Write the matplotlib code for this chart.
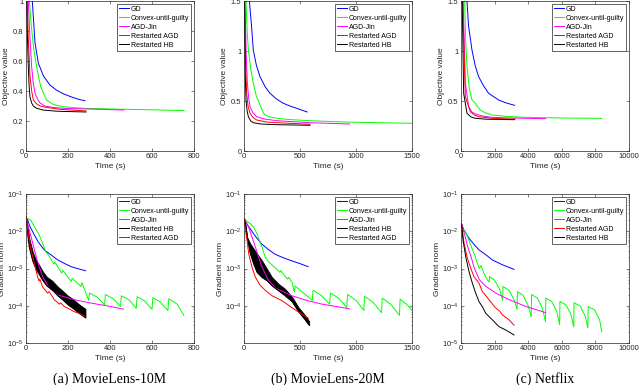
import matplotlib
matplotlib.use('Agg')
import matplotlib.pyplot as plt
from matplotlib.ticker import LogLocator, NullFormatter

plt.rcParams['font.family'] = ['Liberation Sans', 'DejaVu Sans']
plt.rcParams['mathtext.fontset'] = 'custom'
plt.rcParams['mathtext.rm'] = 'Liberation Sans'

C_GD = '#0000ff'
C_CG = '#00ff00'
C_JIN = '#ff00ff'
C_AGD = '#ff0000'
C_HB = '#000000'

# ---------------- objective value (top row) ----------------
# MovieLens-10M
obj_a_gd_t = [25, 30, 43, 59, 83, 114, 146, 180, 217, 250, 281]
obj_a_gd_v = [1.2, 1.0, 0.72, 0.585, 0.50, 0.44, 0.405, 0.38, 0.36, 0.345, 0.335]
obj_a_cg_t = [12, 16, 25, 35, 47, 59, 70, 83, 98, 130, 180, 273, 400, 550, 752]
obj_a_cg_v = [1.2, 1.0, 0.84, 0.70, 0.59, 0.50, 0.43, 0.385, 0.34, 0.31, 0.295, 0.285, 0.28, 0.276, 0.27]
obj_a_jin_t = [8, 11, 19, 27, 35, 43, 55, 67, 90, 130, 200, 352, 467]
obj_a_jin_v = [1.2, 1.0, 0.75, 0.56, 0.45, 0.385, 0.345, 0.32, 0.30, 0.29, 0.283, 0.278, 0.273]
obj_a_agd_t = [4, 6, 11, 19, 27, 35, 50, 67, 100, 162, 286]
obj_a_agd_v = [1.2, 1.0, 0.75, 0.50, 0.40, 0.34, 0.315, 0.30, 0.29, 0.278, 0.267]
obj_a_hb_t = [2, 3, 7, 11, 15, 19, 27, 35, 50, 82, 150, 286]
obj_a_hb_v = [1.2, 1.0, 0.75, 0.56, 0.43, 0.36, 0.32, 0.30, 0.285, 0.273, 0.265, 0.26]

# MovieLens-20M
obj_b_gd_t = [40, 48, 68, 83, 110, 143, 190, 232, 290, 351, 410, 470, 565]
obj_b_gd_v = [1.8, 1.5, 1.24, 1.01, 0.86, 0.743, 0.64, 0.577, 0.52, 0.477, 0.45, 0.427, 0.39]
obj_b_cg_t = [14, 18, 28, 39, 60, 83, 110, 143, 170, 187, 230, 292, 400, 589, 900, 1200, 1500]
obj_b_cg_v = [1.8, 1.5, 1.2, 1.01, 0.82, 0.677, 0.55, 0.46, 0.39, 0.36, 0.34, 0.327, 0.315, 0.303, 0.29, 0.283, 0.277]
obj_b_jin_t = [8, 9, 20, 30, 42, 54, 80, 113, 180, 292, 589, 946]
obj_b_jin_v = [1.8, 1.5, 0.95, 0.68, 0.53, 0.443, 0.38, 0.343, 0.32, 0.303, 0.283, 0.27]
obj_b_agd_t = [5, 6, 15, 24, 36, 54, 80, 113, 200, 292, 589]
obj_b_agd_v = [1.8, 1.5, 0.85, 0.577, 0.45, 0.377, 0.335, 0.31, 0.29, 0.283, 0.267]
obj_b_hb_t = [3, 4, 10, 18, 28, 39, 60, 83, 150, 292, 589]
obj_b_hb_v = [1.8, 1.5, 0.8, 0.51, 0.40, 0.343, 0.30, 0.283, 0.27, 0.263, 0.257]

# Netflix
obj_c_gd_t = [300, 356, 450, 653, 850, 1050, 1350, 1644, 2238, 2700, 3188]
obj_c_gd_v = [1.8, 1.5, 1.25, 1.01, 0.85, 0.743, 0.65, 0.577, 0.51, 0.48, 0.457]
obj_c_cg_t = [180, 218, 280, 356, 500, 653, 851, 1000, 1149, 1400, 1842, 2800, 3822, 6000, 8376]
obj_c_cg_v = [1.8, 1.5, 1.1, 0.843, 0.62, 0.51, 0.477, 0.44, 0.41, 0.385, 0.36, 0.345, 0.337, 0.33, 0.327]
obj_c_jin_t = [110, 130, 257, 455, 650, 851, 1300, 1842, 3000, 5050]
obj_c_jin_v = [1.8, 1.5, 0.677, 0.443, 0.39, 0.37, 0.35, 0.337, 0.33, 0.323]
obj_c_agd_t = [90, 100, 257, 554, 800, 1050, 1800, 2832, 3228]
obj_c_agd_v = [1.8, 1.5, 0.543, 0.393, 0.36, 0.343, 0.328, 0.32, 0.32]
obj_c_hb_t = [60, 70, 158, 356, 600, 851, 1500, 3188]
obj_c_hb_v = [1.8, 1.5, 0.577, 0.377, 0.34, 0.327, 0.318, 0.313]

# ---------------- gradient norm (bottom row) ----------------
# MovieLens-10M
gn_a_gd_t = [0, 5, 20, 40, 60, 87, 120, 151, 185, 215, 250, 283]
gn_a_gd_v = [2.4e-2, 2.2e-2, 1.3e-2, 7.9e-3, 5e-3, 3.16e-3, 2.3e-3, 1.7e-3, 1.35e-3, 1.12e-3, 9.8e-4, 8.7e-4]
gn_a_cg_t = [0, 24, 40, 63, 79, 95, 111, 133, 137, 170, 175, 215, 220, 262, 266, 298, 302, 340, 374, 378,
             415, 450, 454, 490, 525, 529, 565, 600, 604, 640, 676, 680, 720, 752]
gn_a_cg_v = [2.3e-2, 1.94e-2, 1.32e-2, 7.9e-3, 4.8e-3, 2.8e-3, 2.1e-3, 1.3e-3, 1.5e-3, 7.5e-4, 9e-4, 4.5e-4,
             5.5e-4, 3.3e-4, 4.2e-4, 1.4e-4, 2.2e-4, 1.7e-4, 1.05e-4, 2.0e-4, 1.55e-4, 9.5e-5, 1.85e-4,
             1.45e-4, 8.5e-5, 1.75e-4, 1.35e-4, 8e-5, 1.65e-4, 1.25e-4, 7.5e-5, 1.55e-4, 1.1e-4, 5.5e-5]
gn_a_jin_t = [0, 10, 24, 40, 55, 79, 111, 151, 230, 309, 405, 464]
gn_a_jin_v = [2.4e-2, 1.4e-2, 7.2e-3, 3.16e-3, 1.54e-3, 6e-4, 2.95e-4, 1.95e-4, 1.45e-4, 1.18e-4, 9.5e-5, 8.1e-5]
gn_a_agd_t = [0, 11, 24, 40, 55, 62, 66, 79, 103, 110, 135, 160, 165, 183, 210, 230, 255, 278]
gn_a_agd_v = [2.4e-2, 8.9e-3, 3.16e-3, 1.38e-3, 6e-4, 4.6e-4, 5.2e-4, 3.2e-4, 2.2e-4, 2.4e-4, 1.45e-4,
              1.1e-4, 1.2e-4, 9.5e-5, 8e-5, 6.9e-5, 6.2e-5, 5.2e-5]
gn_a_hb_t = [0, 8, 16, 32, 48, 64, 80, 100, 125, 150, 175, 200, 225, 250, 270, 283]
gn_a_hb_hi = [2.5e-2, 1.3e-2, 6.3e-3, 2.8e-3, 1.65e-3, 1.2e-3, 8.3e-4, 5.9e-4, 4.7e-4, 3.3e-4, 2.5e-4,
              1.85e-4, 1.5e-4, 1.12e-4, 9.3e-5, 8.3e-5]
gn_a_hb_lo = [2.5e-2, 8.5e-3, 3.6e-3, 1.6e-3, 9.5e-4, 6.8e-4, 4.8e-4, 3.4e-4, 2.7e-4, 1.9e-4, 1.45e-4,
              1.07e-4, 8.5e-5, 6.5e-5, 5.4e-5, 4.8e-5]

# MovieLens-20M
gn_b_gd_t = [0, 30, 71, 110, 160, 220, 279, 350, 428, 500, 573]
gn_b_gd_v = [2.1e-2, 1.5e-2, 1.0e-2, 6.8e-3, 4.5e-3, 3.2e-3, 2.4e-3, 1.95e-3, 1.6e-3, 1.35e-3, 1.12e-3]
gn_b_cg_t = [0, 30, 56, 86, 116, 140, 160, 190, 220, 250, 279, 310, 320, 330, 360, 390, 400, 430, 450, 456,
             530, 610, 616, 690, 765, 771, 845, 918, 924, 1000, 1070, 1076, 1150, 1228, 1234, 1310, 1388,
             1394, 1450, 1500]
gn_b_cg_v = [2.2e-2, 1.8e-2, 1.6e-2, 1.3e-2, 8.6e-3, 5.5e-3, 3.8e-3, 2.0e-3, 1.5e-3, 1.25e-3, 1.05e-3,
             8.5e-4, 7.9e-4, 8.8e-4, 6.5e-4, 5.2e-4, 5.8e-4, 4.2e-4, 2.3e-4, 3.4e-4, 2.2e-4, 1.4e-4,
             2.6e-4, 1.9e-4, 1.1e-4, 2.2e-4, 1.6e-4, 9e-5, 2.0e-4, 1.4e-4, 7.5e-5, 1.8e-4, 1.25e-4,
             6.5e-5, 1.6e-4, 1.1e-4, 5.5e-5, 1.5e-4, 1.1e-4, 7.5e-5]
gn_b_jin_t = [0, 42, 71, 101, 131, 160, 220, 279, 428, 576, 700, 826, 940]
gn_b_jin_v = [2.2e-2, 1.3e-2, 7e-3, 3.8e-3, 2.0e-3, 1.1e-3, 4.7e-4, 3.0e-4, 1.85e-4, 1.35e-4, 1.1e-4, 9.5e-5, 8.3e-5]
gn_b_agd_t = [0, 27, 42, 71, 101, 146, 190, 250, 339, 428, 517, 576]
gn_b_agd_v = [2.2e-2, 5.7e-3, 2.5e-3, 1.09e-3, 5.9e-4, 3.5e-4, 2.6e-4, 1.86e-4, 1.37e-4, 8.9e-5, 5.9e-5, 4.6e-5]
gn_b_hb_t = [0, 6, 27, 56, 86, 116, 160, 205, 250, 309, 368, 428, 487, 546, 582]
gn_b_hb_hi = [2.2e-2, 2.0e-2, 7.0e-3, 4.65e-3, 3.4e-3, 2.49e-3, 1.64e-3, 9.8e-4, 5.83e-4, 3.85e-4,
              2.82e-4, 1.75e-4, 9e-5, 5.5e-5, 3.8e-5]
gn_b_hb_lo = [2.2e-2, 2.0e-2, 7.0e-3, 2.49e-3, 1.34e-3, 7.96e-4, 5.83e-4, 4.74e-4, 3.47e-4, 2.54e-4,
              1.86e-4, 1.31e-4, 7e-5, 4.2e-5, 3.0e-5]

# Netflix
gn_c_gd_t = [0, 40, 179, 476, 800, 1071, 1500, 1864, 2460, 3154]
gn_c_gd_v = [1.6e-2, 1.5e-2, 1.07e-2, 6.5e-3, 4.3e-3, 3.16e-3, 2.3e-3, 1.7e-3, 1.26e-3, 9.5e-4]
gn_c_cg_t = [0, 60, 300, 600, 800, 990, 1090, 1190, 1390, 1590, 1680, 1700, 2000, 2300, 2480, 2500, 2850,
             3150, 3340, 3360, 3700, 4000, 4180, 4200, 4550, 4850, 5030, 5050, 5400, 5700, 5870, 5890,
             6250, 6550, 6710, 6730, 7100, 7400, 7550, 7570, 7950, 8250, 8380]
gn_c_cg_v = [1.3e-2, 1.25e-2, 9e-3, 4e-3, 2.4e-3, 1.3e-3, 1.0e-3, 1.2e-3, 7e-4, 4.8e-4, 4.3e-4, 6.1e-4,
             4.8e-4, 2.8e-4, 1.4e-4, 3.3e-4, 2.6e-4, 1.5e-4, 8e-5, 2.4e-4, 1.9e-4, 1.0e-4, 5e-5, 2.0e-4,
             1.6e-4, 8.5e-5, 3.7e-5, 1.6e-4, 1.3e-4, 7e-5, 3.1e-5, 1.3e-4, 1.05e-4, 5.8e-5, 2.7e-5,
             1.2e-4, 9.8e-5, 5.2e-5, 2.55e-5, 9.5e-5, 7.8e-5, 4.2e-5, 2.0e-5]
gn_c_jin_t = [0, 59, 198, 396, 594, 792, 1089, 1485, 2079, 2871, 3861, 5050]
gn_c_jin_v = [1.64e-2, 1.5e-2, 8.8e-3, 3.9e-3, 2.1e-3, 1.02e-3, 5e-4, 3.3e-4, 2.18e-4, 1.45e-4, 9.6e-5, 6.5e-5]
gn_c_agd_t = [0, 40, 179, 377, 575, 774, 1071, 1269, 1466, 1666, 2063, 2300, 2460, 2856, 3154]
gn_c_agd_v = [1.64e-2, 1.5e-2, 4.8e-3, 1.9e-3, 1.03e-3, 6.0e-4, 4.05e-4, 2.4e-4, 1.9e-4, 1.44e-4, 8.7e-5,
              7.2e-5, 5.7e-5, 4.2e-5, 3.0e-5]
gn_c_hb_t = [0, 40, 119, 278, 476, 674, 872, 1071, 1269, 1468, 1864, 2261, 2658, 3154]
gn_c_hb_v = [1.64e-2, 1.5e-2, 5.9e-3, 2.1e-3, 8.3e-4, 4.05e-4, 2.2e-4, 1.29e-4, 9.5e-5, 6.3e-5, 4.2e-5,
             2.75e-5, 2.24e-5, 1.65e-5]

captions = ['(a) MovieLens-10M', '(b) MovieLens-20M', '(c) Netflix']
obj_xlims = [800, 1500, 10000]
obj_ylims = [1.0, 1.5, 1.5]
obj_xticks = [[0, 200, 400, 600, 800], [0, 500, 1000, 1500], [0, 2000, 4000, 6000, 8000, 10000]]
obj_yticks = [[0, 0.2, 0.4, 0.6, 0.8, 1.0], [0, 0.5, 1.0, 1.5], [0, 0.5, 1.0, 1.5]]
obj_ylabels = [['0', '0.2', '0.4', '0.6', '0.8', '1'], ['0', '0.5', '1', '1.5'], ['0', '0.5', '1', '1.5']]

AX_COL = '#262626'


def style(ax):
    ax.tick_params(direction='in', which='both', top=True, right=True, labelsize=5.5,
                   length=2, width=0.4, pad=1.8, colors=AX_COL)
    ax.tick_params(which='minor', length=1)
    for s in ax.spines.values():
        s.set_linewidth(0.5)
        s.set_color(AX_COL)


def legend(ax, handles, labels):
    leg = ax.legend(handles, labels, loc='upper right', fontsize=5, fancybox=False, framealpha=1,
                    edgecolor=AX_COL, borderpad=0.3, labelspacing=0.28, handlelength=1.4,
                    handletextpad=0.3, borderaxespad=0.4)
    leg.get_frame().set_linewidth(0.5)


fig = plt.figure(figsize=(6.4, 3.85), dpi=100)
lefts = [26 / 640, 244 / 640, 461 / 640]
w = 168 / 640
LW = 0.7

obj_data = [
    (obj_a_gd_t, obj_a_gd_v, obj_a_cg_t, obj_a_cg_v, obj_a_jin_t, obj_a_jin_v, obj_a_agd_t, obj_a_agd_v, obj_a_hb_t, obj_a_hb_v),
    (obj_b_gd_t, obj_b_gd_v, obj_b_cg_t, obj_b_cg_v, obj_b_jin_t, obj_b_jin_v, obj_b_agd_t, obj_b_agd_v, obj_b_hb_t, obj_b_hb_v),
    (obj_c_gd_t, obj_c_gd_v, obj_c_cg_t, obj_c_cg_v, obj_c_jin_t, obj_c_jin_v, obj_c_agd_t, obj_c_agd_v, obj_c_hb_t, obj_c_hb_v),
]

for i in range(3):
    ax = fig.add_axes([lefts[i], 1 - 151 / 385, w, 150 / 385])
    gt, gv, ct, cv, jt, jv, at, av, ht, hv = obj_data[i]
    l1, = ax.plot(gt, gv, color=C_GD, lw=LW)
    l2, = ax.plot(ct, cv, color=C_CG, lw=LW)
    l3, = ax.plot(jt, jv, color=C_JIN, lw=LW)
    l4, = ax.plot(at, av, color=C_AGD, lw=LW)
    l5, = ax.plot(ht, hv, color=C_HB, lw=LW)
    ax.set_xlim(0, obj_xlims[i])
    ax.set_ylim(0, obj_ylims[i])
    ax.set_xticks(obj_xticks[i])
    ax.set_yticks(obj_yticks[i])
    ax.set_yticklabels(obj_ylabels[i])
    style(ax)
    ax.set_xlabel('Time (s)', fontsize=6, labelpad=1.5, color=AX_COL)
    ax.set_ylabel('Objective value', fontsize=6, labelpad=2, color=AX_COL)
    legend(ax, [l1, l2, l3, l4, l5],
           ['GD', 'Convex-until-guilty', 'AGD-Jin', 'Restarted AGD', 'Restarted HB'])

gn_data = [
    (gn_a_gd_t, gn_a_gd_v, gn_a_cg_t, gn_a_cg_v, gn_a_jin_t, gn_a_jin_v, gn_a_agd_t, gn_a_agd_v, gn_a_hb_t, gn_a_hb_hi, gn_a_hb_lo, None, None),
    (gn_b_gd_t, gn_b_gd_v, gn_b_cg_t, gn_b_cg_v, gn_b_jin_t, gn_b_jin_v, gn_b_agd_t, gn_b_agd_v, gn_b_hb_t, gn_b_hb_hi, gn_b_hb_lo, None, None),
    (gn_c_gd_t, gn_c_gd_v, gn_c_cg_t, gn_c_cg_v, gn_c_jin_t, gn_c_jin_v, gn_c_agd_t, gn_c_agd_v, None, None, None, gn_c_hb_t, gn_c_hb_v),
]

for i in range(3):
    ax = fig.add_axes([lefts[i], 1 - 343 / 385, w, 149 / 385])
    gt, gv, ct, cv, jt, jv, at, av, bt, bhi, blo, ht, hv = gn_data[i]
    l1, = ax.plot(gt, gv, color=C_GD, lw=LW)
    l2, = ax.plot(ct, cv, color=C_CG, lw=LW)
    l3, = ax.plot(jt, jv, color=C_JIN, lw=LW)
    if bt is not None:
        ax.fill_between(bt, blo, bhi, color=C_HB, lw=0.6)
        l5, = ax.plot(bt, blo, color=C_HB, lw=LW)
        l4, = ax.plot(at, av, color=C_AGD, lw=LW)
        handles = [l1, l2, l3, l5, l4]
        labels = ['GD', 'Convex-until-guilty', 'AGD-Jin', 'Restarted HB', 'Restarted AGD']
    else:
        l4, = ax.plot(at, av, color=C_AGD, lw=LW)
        l5, = ax.plot(ht, hv, color=C_HB, lw=LW)
        handles = [l1, l2, l3, l4, l5]
        labels = ['GD', 'Convex-until-guilty', 'AGD-Jin', 'Restarted AGD', 'Restarted HB']
    ax.set_yscale('log')
    ax.set_ylim(1e-5, 1e-1)
    ax.set_xlim(0, obj_xlims[i])
    ax.set_xticks(obj_xticks[i])
    if i == 1:
        ax.set_yticks([1e-4, 1e-3, 1e-2, 1e-1])
    else:
        ax.set_yticks([1e-5, 1e-4, 1e-3, 1e-2, 1e-1])
    ax.yaxis.set_minor_locator(LogLocator(base=10, subs=range(2, 10), numticks=20))
    ax.yaxis.set_minor_formatter(NullFormatter())
    style(ax)
    ax.set_xlabel('Time (s)', fontsize=6, labelpad=1.5, color=AX_COL)
    ax.set_ylabel('Gradient norm', fontsize=6, labelpad=1, color=AX_COL)
    legend(ax, handles, labels)
    fig.text(lefts[i] + w / 2, 1 - 379 / 385, captions[i], ha='center', va='center',
             fontsize=10, family='Liberation Serif')

fig.savefig('out.png', dpi=100)
